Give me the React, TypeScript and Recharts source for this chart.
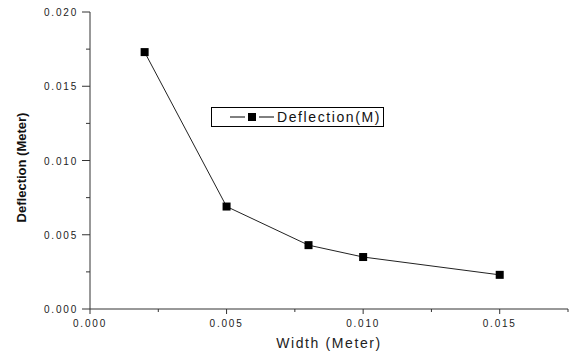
import { LineChart, Line, XAxis, YAxis, Legend } from 'recharts'

const widths = [0.002, 0.005, 0.008, 0.01, 0.015]
const deflections = [0.0173, 0.0069, 0.0043, 0.0035, 0.0023]

const xMajorTicks = [0, 0.005, 0.01, 0.015]
const xMinorTicks = [0.0025, 0.0075, 0.0125, 0.0175]
const yMajorTicks = [0, 0.005, 0.01, 0.015, 0.02]
const yMinorTicks = [0.0025, 0.0075, 0.0125, 0.0175]

const seriesName = 'Deflection(M)'
const xTitle = 'Width (Meter)'
const yTitle = 'Deflection (Meter)'

const data = widths.map((w, i) => ({ width: w, deflection: deflections[i] }))

const FONT = '"Liberation Sans", Arial, sans-serif'
const AXIS = '#333'

const isMajor = (v: number, list: number[]) => list.some((t) => Math.abs(t - v) < 1e-9)

function XTick(props: any) {
  const { x, y, payload } = props
  const major = isMajor(payload.value, xMajorTicks)
  return (
    <g>
      <line x1={x} y1={y} x2={x} y2={y + (major ? 5 : 3)} stroke={AXIS} />
      {major && (
        <text x={x} y={y + 18} textAnchor="middle" fontSize={10} letterSpacing={1.8} fill="#222" fontFamily={FONT}>
          {payload.value.toFixed(3)}
        </text>
      )}
    </g>
  )
}

function YTick(props: any) {
  const { x, y, payload } = props
  const major = isMajor(payload.value, yMajorTicks)
  return (
    <g>
      <line x1={x - (major ? 8 : 4)} y1={y} x2={x} y2={y} stroke={AXIS} />
      {major && (
        <text x={x - 12} y={y + 4} textAnchor="end" fontSize={10} letterSpacing={1.8} fill="#222" fontFamily={FONT}>
          {payload.value.toFixed(3)}
        </text>
      )}
    </g>
  )
}

function YTitle(props: any) {
  const { viewBox } = props
  const cx = 21
  const cy = viewBox.y + viewBox.height / 2 + 7
  return (
    <text
      x={cx}
      y={cy}
      transform={`rotate(-90, ${cx}, ${cy})`}
      textAnchor="middle"
      dominantBaseline="central"
      fontSize={13}
      fontWeight="bold"
      fill="#111"
      fontFamily={FONT}
    >
      {yTitle}
    </text>
  )
}

function SquareDot(props: any) {
  const { cx, cy, index } = props
  return <rect key={index} x={cx - 4} y={cy - 4} width={8} height={8} fill="#000" />
}

function LegendBox(props: any) {
  const item = props.payload && props.payload[0]
  return (
    <div
      style={{
        border: '1px solid #000',
        height: 18,
        width: 171,
        display: 'flex',
        alignItems: 'center',
        fontFamily: FONT,
        fontSize: 14,
        letterSpacing: 1.6,
        color: '#111',
        background: '#fff'
      }}
    >
      <svg width={44} height={10} style={{ marginLeft: 18, marginRight: 3 }}>
        <line x1={0} y1={5} x2={15} y2={5} stroke="#000" />
        <rect x={18} y={1} width={8} height={8} fill="#000" />
        <line x1={29} y1={5} x2={44} y2={5} stroke="#000" />
      </svg>
      <span>{item ? item.value : seriesName}</span>
    </div>
  )
}

export default function App() {
  return (
    <div style={{ position: 'absolute', left: 0, top: 0, background: '#fff' }}>
      <style>{`body{margin:0;}`}</style>
      <LineChart
        width={569}
        height={353}
        data={data}
        margin={{ top: 12, right: 1, bottom: 0, left: 0 }}
        style={{ fontFamily: FONT }}
      >
        <XAxis
          type="number"
          dataKey="width"
          domain={[0, 0.0175]}
          ticks={[...xMajorTicks, ...xMinorTicks]}
          height={44}
          tickSize={0}
          tickMargin={0}
          tick={<XTick />}
          axisLine={{ stroke: AXIS }}
          interval={0}
          label={{
            value: xTitle,
            position: 'insideBottom',
            offset: 5,
            style: { fontSize: 14, letterSpacing: 1.6, fill: '#222', fontFamily: FONT }
          }}
        />
        <YAxis
          type="number"
          domain={[0, 0.02]}
          ticks={[...yMajorTicks, ...yMinorTicks]}
          width={90}
          tickSize={0}
          tickMargin={0}
          tick={<YTick />}
          axisLine={{ stroke: AXIS }}
          interval={0}
          label={{ value: yTitle, content: <YTitle /> }}
        />
        <Legend
          layout="vertical"
          align="center"
          verticalAlign="middle"
          content={<LegendBox />}
          wrapperStyle={{ left: 211, top: 107, width: 173, height: 20 }}
        />
        <Line
          type="linear"
          dataKey="deflection"
          name={seriesName}
          stroke="#222"
          strokeWidth={1}
          dot={SquareDot}
          activeDot={false}
          isAnimationActive={false}
        />
      </LineChart>
    </div>
  )
}
